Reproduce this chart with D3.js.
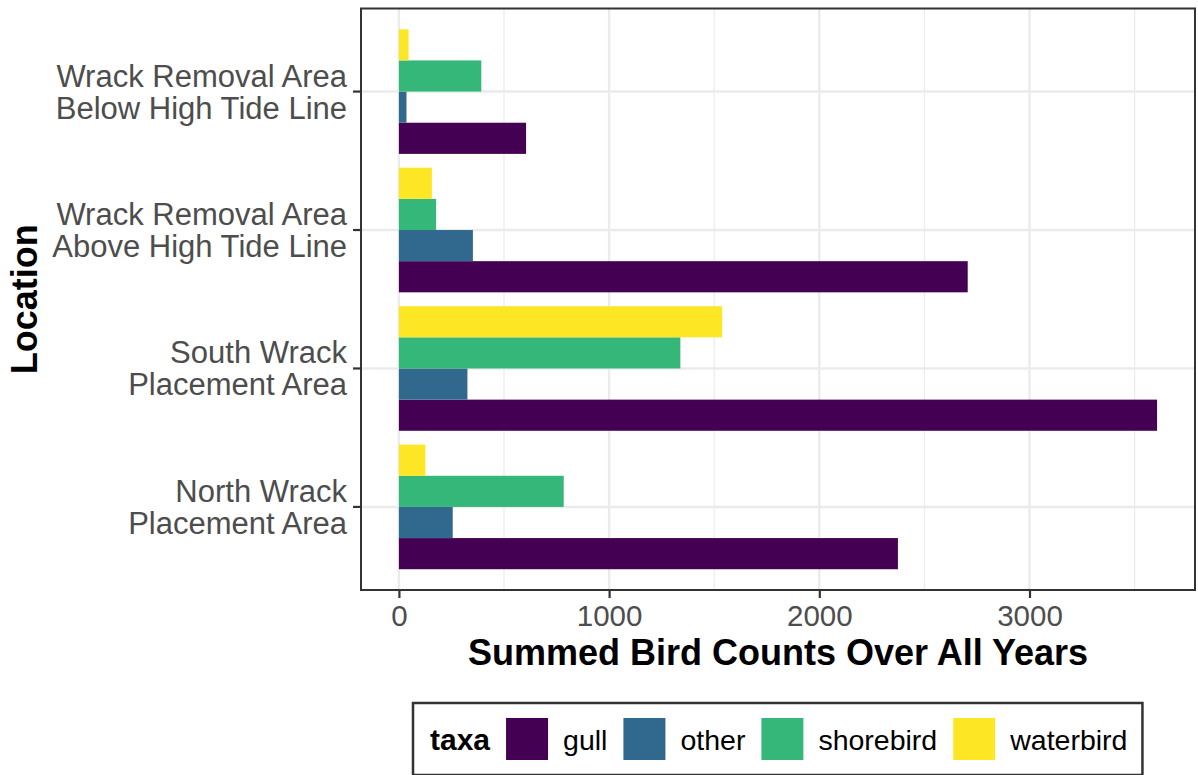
<!DOCTYPE html>
<html>
<head>
<meta charset="utf-8">
<script src="https://cdn.jsdelivr.net/npm/d3@7"></script>
<style>
  html, body { margin: 0; padding: 0; background: #ffffff; }
  svg { display: block; font-family: "Liberation Sans", Arial, sans-serif; }
</style>
</head>
<body>
<svg id="chart" width="1198" height="775"></svg>
<script>
// Locations, listed top to bottom as drawn
const locations = [
  "Wrack Removal Area\nBelow High Tide Line",
  "Wrack Removal Area\nAbove High Tide Line",
  "South Wrack\nPlacement Area",
  "North Wrack\nPlacement Area"
];
const taxa = ["gull", "other", "shorebird", "waterbird"];
const taxaColors = ["#440154", "#31688E", "#35B779", "#FDE725"];

// Summed counts per taxon, in the same order as `locations`
const gullCounts      = [605, 2706, 3607, 2374];
const otherCounts     = [36, 352, 326, 256];
const shorebirdCounts = [392, 177, 1339, 784];
const waterbirdCounts = [46, 157, 1538, 126];

const xTicks = [0, 1000, 2000, 3000];
const xMinor = [500, 1500, 2500, 3500];

const seriesByTaxon = {
  gull: gullCounts,
  other: otherCounts,
  shorebird: shorebirdCounts,
  waterbird: waterbirdCounts
};

const rows = [];
locations.forEach((loc, i) => {
  taxa.forEach(t => rows.push({ location: loc, taxon: t, value: seriesByTaxon[t][i] }));
});

const svg = d3.select("#chart");
const panel = { left: 361, right: 1195, top: 8.5, bottom: 590 };

// Continuous axis with 5% expansion on both sides
const maxVal = d3.max(rows, d => d.value);
const pad = maxVal * 0.05;
const x = d3.scaleLinear()
  .domain([-pad, maxVal + pad])
  .range([panel.left, panel.right]);

// Discrete axis: band per location, 0.6 unit expansion
const y = d3.scaleBand()
  .domain(locations)
  .range([panel.top, panel.bottom])
  .paddingInner(0)
  .paddingOuter(0.1);

// Dodged bars: waterbird on top, gull at the bottom
const sub = d3.scaleBand()
  .domain(taxa.slice().reverse())
  .range([y.bandwidth() * 0.05, y.bandwidth() * 0.95]);

const color = d3.scaleOrdinal().domain(taxa).range(taxaColors);

// Panel grid
const grid = svg.append("g");
grid.selectAll("line.minor").data(xMinor).join("line")
  .attr("x1", d => x(d)).attr("x2", d => x(d))
  .attr("y1", panel.top).attr("y2", panel.bottom)
  .attr("stroke", "#EBEBEB").attr("stroke-width", 1.2);
grid.selectAll("line.major").data(xTicks).join("line")
  .attr("x1", d => x(d)).attr("x2", d => x(d))
  .attr("y1", panel.top).attr("y2", panel.bottom)
  .attr("stroke", "#EBEBEB").attr("stroke-width", 2.4);
grid.selectAll("line.ymajor").data(locations).join("line")
  .attr("x1", panel.left).attr("x2", panel.right)
  .attr("y1", d => y(d) + y.bandwidth() / 2).attr("y2", d => y(d) + y.bandwidth() / 2)
  .attr("stroke", "#EBEBEB").attr("stroke-width", 2.4);

// Bars
svg.append("g").selectAll("rect").data(rows).join("rect")
  .attr("x", x(0))
  .attr("y", d => y(d.location) + sub(d.taxon))
  .attr("width", d => x(d.value) - x(0))
  .attr("height", sub.bandwidth())
  .attr("fill", d => color(d.taxon));

// Panel border
svg.append("rect")
  .attr("x", panel.left).attr("y", panel.top)
  .attr("width", panel.right - panel.left).attr("height", panel.bottom - panel.top)
  .attr("fill", "none").attr("stroke", "#333333").attr("stroke-width", 2);

// X axis
const xAxis = svg.append("g")
  .attr("transform", `translate(0,${panel.bottom})`)
  .call(d3.axisBottom(x).tickValues(xTicks).tickFormat(d3.format("d")).tickSize(8).tickPadding(8));
xAxis.select(".domain").remove();
xAxis.selectAll(".tick line").attr("stroke", "#333333").attr("stroke-width", 2.2);
xAxis.selectAll(".tick text")
  .attr("fill", "#4D4D4D").attr("font-size", 29.5)
  .attr("font-family", "'Liberation Sans', Arial, sans-serif")
  .attr("dy", null).attr("y", 36);

// Y axis
const yAxis = svg.append("g")
  .attr("transform", `translate(${panel.left},0)`)
  .call(d3.axisLeft(y).tickSize(8).tickFormat(""));
yAxis.select(".domain").remove();
yAxis.selectAll(".tick line").attr("stroke", "#333333").attr("stroke-width", 2.2);
yAxis.selectAll(".tick text").remove();
yAxis.selectAll(".tick").each(function(d) {
  const lines = d.split("\n");
  const t = d3.select(this).append("text")
    .attr("text-anchor", "end")
    .attr("fill", "#4D4D4D")
    .attr("font-size", 31)
    .attr("font-family", "'Liberation Sans', Arial, sans-serif");
  lines.forEach((ln, i) => {
    t.append("tspan").attr("x", -14).attr("y", i === 0 ? -5 : 27).text(ln);
  });
});

// Axis titles
svg.append("text")
  .attr("x", (panel.left + panel.right) / 2).attr("y", 665)
  .attr("text-anchor", "middle")
  .attr("font-size", 36).attr("font-weight", "bold").attr("fill", "#000")
  .text("Summed Bird Counts Over All Years");

svg.append("text")
  .attr("transform", `translate(37,${(panel.top + panel.bottom) / 2}) rotate(-90)`)
  .attr("text-anchor", "middle")
  .attr("font-size", 36).attr("font-weight", "bold").attr("fill", "#000")
  .text("Location");

// Legend
const legend = svg.append("g");
const legendBox = legend.append("rect");
const legendBaseline = 750;
let cx = 430;
const legendTitle = legend.append("text")
  .attr("x", cx).attr("y", legendBaseline)
  .attr("font-size", 30).attr("font-weight", "bold").attr("fill", "#000")
  .text("taxa");
cx += legendTitle.node().getComputedTextLength() + 16;
taxa.forEach(t => {
  legend.append("rect")
    .attr("x", cx).attr("y", 718).attr("width", 42).attr("height", 42)
    .attr("fill", color(t));
  cx += 42 + 15;
  const lbl = legend.append("text")
    .attr("x", cx).attr("y", legendBaseline)
    .attr("font-size", 28.5).attr("fill", "#000")
    .text(t);
  cx += lbl.node().getComputedTextLength() + 16;
});
legendBox
  .attr("x", 413).attr("y", 703)
  .attr("width", cx - 1 - 413).attr("height", 72)
  .attr("fill", "#fff").attr("stroke", "#333333").attr("stroke-width", 2.5);
</script>
</body>
</html>
